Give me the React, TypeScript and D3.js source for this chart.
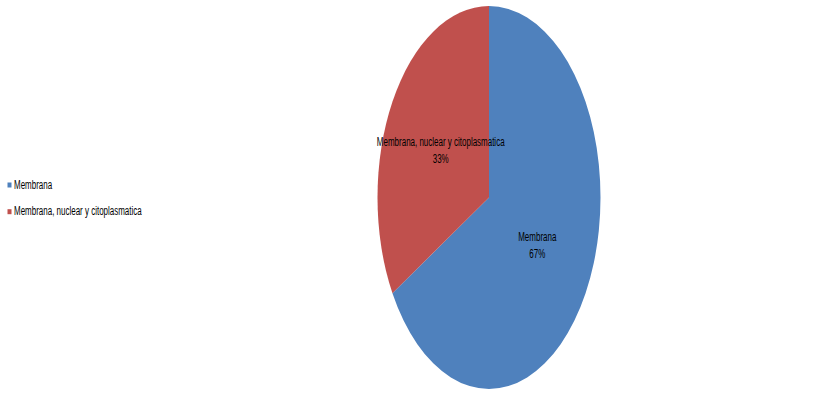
import React from "react";
import * as d3 from "d3";

const categories = ["Membrana", "Membrana, nuclear y citoplasmatica"];
const values = [2, 1];
const percentLabels = ["67%", "33%"];
const colors = ["#4F81BD", "#C0504D"];

const W = 831;
const H = 403;
const cx = 489;
const cy = 197.5;
const rx = 111.5;
const ry = 191.5;
const FONT = "'Liberation Sans', Arial, sans-serif";
const SX = 0.665;
const FS = 12;

export default function App() {
  const pie = d3.pie<number>().sort(null).value((d) => d);
  const arcs = pie(values);
  const arc = d3.arc<d3.PieArcDatum<number>>().innerRadius(0).outerRadius(1);
  return (
    <svg
      width={W}
      height={H}
      style={{ position: "absolute", left: 0, top: 0 }}
      fontFamily={FONT}
    >
      <rect width={W} height={H} fill="#fff" />
      <g transform={`translate(${cx},${cy}) scale(${rx},${ry})`}>
        {arcs.map((a, i) => (
          <path key={i} d={arc(a) || ""} fill={colors[i]} />
        ))}
      </g>
      {arcs.map((a, i) => {
        const [ux, uy] = arc.centroid(a);
        const x = cx + ux * rx;
        const y = cy + uy * ry;
        return (
          <text
            key={i}
            transform={`translate(${x},${y}) scale(${SX},1)`}
            textAnchor="middle"
            fontSize={FS}
            fill="#000"
          >
            <tspan x={0} dy={-4}>{categories[i]}</tspan>
            <tspan x={0} dy={17}>{percentLabels[i]}</tspan>
          </text>
        );
      })}
      {categories.map((c, i) => (
        <g key={c} transform={`translate(0,${185 + i * 26.7})`}>
          <rect x={7.5} y={-2.5} width={4} height={5} fill={colors[i]} />
          <text transform={`translate(14,3.5) scale(${SX},1)`} fontSize={FS} fill="#000">
            {c}
          </text>
        </g>
      ))}
    </svg>
  );
}
